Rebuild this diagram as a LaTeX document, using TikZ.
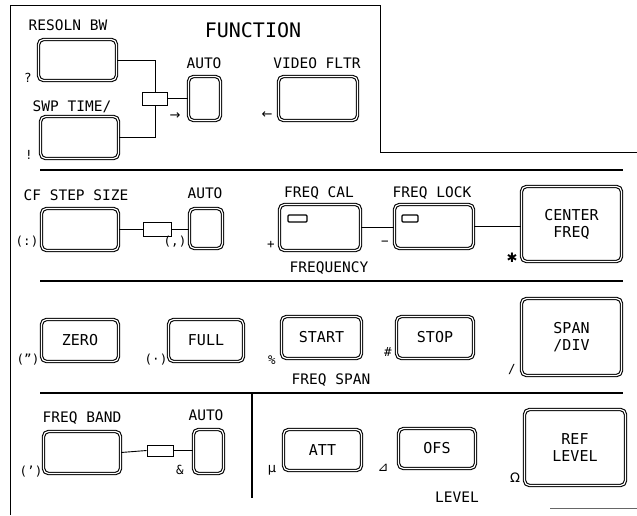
\documentclass[tikz,border=0pt]{standalone}
\usepackage{fontspec}
\setmainfont{DejaVu Sans Mono}
\newfontfamily\symfont{DejaVu Sans}
\newcommand\lblfont{\fontsize{14.5}{16}\selectfont}
\newcommand\btnfont{\fontsize{15}{17}\selectfont}
\newcommand\titlefont{\fontsize{20}{22}\selectfont}
\newcommand\smfont{\fontsize{12.5}{13}\selectfont}
\begin{document}
\begin{tikzpicture}[x=1pt,y=-1pt,
  btn/.style={draw, rounded corners=5pt, line width=1.1pt, double=white, double distance=1.2pt, inner sep=0pt, align=center, font=\btnfont},
  sz/.style 2 args={minimum width=#1, minimum height=#2},
  lbl/.style={inner sep=0pt, font=\lblfont},
  sm/.style={inner sep=0pt, font=\smfont},
  sym/.style={inner sep=0pt, font=\symfont\fontsize{13}{13}\selectfont},
  box/.style={draw, line width=1pt, inner sep=0pt},
  ind/.style={draw, line width=1.1pt, rounded corners=1pt, inner sep=0pt},
  conn/.style={line width=0.9pt},
  bar/.style={line width=2.6pt},
  frm/.style={line width=1pt}]
\useasboundingbox (0,0) rectangle (637,515);
% frame and bars
\draw[frm] (10,515) -- (10,5) -- (380,5) -- (380,152) -- (637,152);
\draw[bar] (40,170) -- (623,170);
\draw[bar] (40,281) -- (623,281);
\draw[bar] (40,393) -- (623,393);
\draw[line width=2pt] (252,393) -- (252,498);
\draw[line width=0.8pt, black!60] (550,508) -- (637,508);
% FUNCTION section
\node[inner sep=0pt, font=\titlefont] (ttl) at (253,30) {FUNCTION};
\node[lbl] (l1) at (68,25) {RESOLN BW};
\node[btn, sz={78pt}{41pt}] (resbw) at (77.5,60) {};
\node[sm] (q1) at (28,78) {?};
\node[lbl] (l2) at (72,107) {SWP TIME/};
\node[btn, sz={78pt}{42pt}] (swp) at (79.5,137.5) {};
\node[sm] (q2) at (29,155) {!};
\node[box, sz={25pt}{13pt}] (frect) at (155,98.5) {};
\node[lbl] (l3) at (204,63) {AUTO};
\node[btn, sz={32pt}{44pt}] (fauto) at (204.5,98.5) {};
\node[sym] (ar1) at (175,116) {→};
\node[lbl] (l4) at (317,63) {VIDEO FLTR};
\node[btn, sz={79pt}{44pt}] (video) at (318,98.5) {};
\node[sym] (ar2) at (267,115) {←};
\draw[conn] (resbw.east) -| (frect.north);
\draw[conn] (frect.south) |- (swp.east);
\draw[conn] (frect.east) -- (fauto.west);
% FREQUENCY section
\node[lbl] (l5) at (76,195) {CF STEP SIZE};
\node[btn, sz={77pt}{42pt}] (cfstep) at (80,229.5) {};
\node[sm] (q3) at (27,242) {(:)};
\node[box, sz={28pt}{14pt}] (crect) at (157.5,229.5) {};
\node[lbl] (l6) at (205,193) {AUTO};
\node[btn, sz={33pt}{40pt}] (cauto) at (206,228.5) {};
\node[sm] (q4) at (175,242) {(,)};
\node[lbl] (l7) at (319,193) {FREQ CAL};
\node[btn, sz={81pt}{46pt}] (fcal) at (320,227.5) {};
\node[ind, sz={19pt}{7pt}] (ind1) at (297.5,218.5) {};
\node[sm] (q5) at (271,245) {+};
\node[lbl] (l8) at (432,193) {FREQ LOCK};
\node[btn, sz={79pt}{44pt}] (flock) at (434,226.5) {};
\node[ind, sz={16pt}{7pt}] (ind2) at (410,218.5) {};
\node[sm] (q6) at (385,243) {−};
\node[btn, sz={100pt}{75pt}] (cfreq) at (571.5,224) {CENTER\\FREQ};
\node[sym, font=\symfont\fontsize{13}{13}\selectfont] (q7) at (512,258) {✱};
\node[lbl] (l9) at (329,268) {FREQUENCY};
\draw[conn] (cfstep.east) -- (crect.west);
\draw[conn] (crect.east) -- (crect.east -| cauto.west);
\draw[conn] (fcal.east) -- (fcal.east -| flock.west);
\draw[conn] (flock.east) -- (flock.east -| cfreq.west);
% FREQ SPAN section
\node[btn, sz={77pt}{42pt}] (zero) at (80,340.5) {ZERO};
\node[sm] (q8) at (28,360) {(")};
\node[btn, sz={75pt}{42pt}] (full) at (206,340.5) {FULL};
\node[sm] (q9) at (156,360) {(\textperiodcentered)};
\node[btn, sz={80pt}{42pt}] (start) at (321.5,337.5) {START};
\node[sm] (q10) at (272,360) {\%};
\node[btn, sz={77pt}{42pt}] (stop) at (435,337.5) {STOP};
\node[sm] (q11) at (388,352) {\#};
\node[btn, sz={100pt}{77pt}] (spandiv) at (571.5,337) {SPAN\\/DIV};
\node[sm] (q12) at (512,370) {/};
\node[lbl] (l10) at (331,380) {FREQ SPAN};
% LEVEL section
\node[lbl] (l11) at (82,418) {FREQ BAND};
\node[btn, sz={77pt}{42pt}] (fband) at (82,452.5) {};
\node[sm] (q13) at (31,472) {(')};
\node[box, sz={26pt}{11pt}] (brect) at (160,450.5) {};
\node[lbl] (l12) at (206,415) {AUTO};
\node[btn, sz={30pt}{44pt}] (bauto) at (208.5,451.5) {};
\node[sm] (q14) at (180,470) {\&};
\draw[conn] (fband.east) -- (brect.west);
\draw[conn] (brect.east) -- (brect.east -| bauto.west);
\node[btn, sz={78pt}{41pt}] (att) at (322.5,450) {ATT};
\node[sym] (q15) at (272,470) {μ};
\node[btn, sz={77pt}{40pt}] (ofs) at (437,448.5) {OFS};
\node[sym] (q16) at (383,468) {⊿};
\node[btn, sz={101pt}{76pt}] (reflevel) at (575,447.5) {REF\\LEVEL};
\node[sym] (q17) at (515,478) {Ω};
\node[lbl] (l13) at (457,497) {LEVEL};
\end{tikzpicture}
\end{document}
